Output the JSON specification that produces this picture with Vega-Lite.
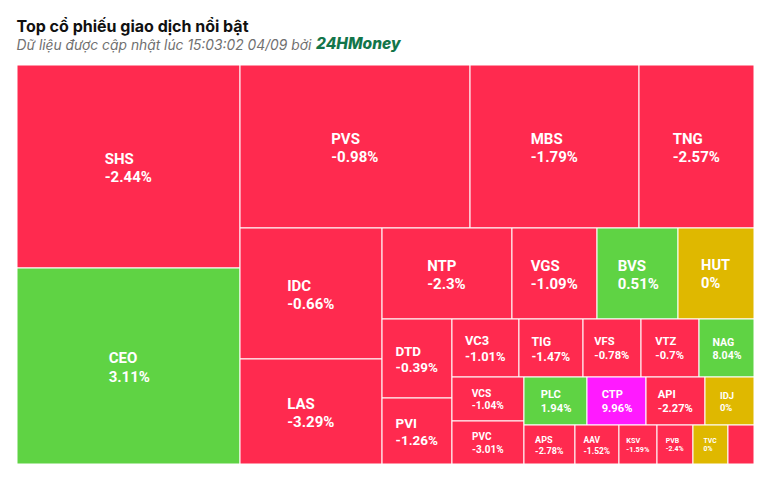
{
  "$schema": "https://vega.github.io/schema/vega-lite/v6.json",
  "width": 737,
  "height": 399,
  "autosize": {"type": "none"},
  "padding": {"left": 17, "top": 65, "right": 19, "bottom": 20},
  "background": "white",
  "title": {
    "text": "Top cổ phiếu giao dịch nổi bật",
    "subtitle": "Dữ liệu được cập nhật lúc 15:03:02 04/09 bởi",
    "anchor": "start",
    "font": "Inter",
    "fontSize": 16,
    "fontWeight": "bold",
    "color": "#111111",
    "subtitleFont": "Inter",
    "subtitleFontSize": 13.8,
    "subtitleFontStyle": "italic",
    "subtitleColor": "#707070",
    "subtitlePadding": 4,
    "offset": -15
  },
  "config": {"view": {"stroke": null}},
  "layer": [
    {
      "data": {
        "values": [
          {"ticker": "SHS", "change": -2.44, "status": "down", "x0": 0, "x1": 30.26, "y0": 0, "y1": 50.88},
          {"ticker": "CEO", "change": 3.11, "status": "up", "x0": 0, "x1": 30.26, "y0": 50.88, "y1": 100},
          {"ticker": "PVS", "change": -0.98, "status": "down", "x0": 30.26, "x1": 61.47, "y0": 0, "y1": 40.85},
          {"ticker": "MBS", "change": -1.79, "status": "down", "x0": 61.47, "x1": 84.4, "y0": 0, "y1": 40.85},
          {"ticker": "TNG", "change": -2.57, "status": "down", "x0": 84.4, "x1": 100, "y0": 0, "y1": 40.85},
          {"ticker": "IDC", "change": -0.66, "status": "down", "x0": 30.26, "x1": 49.53, "y0": 40.85, "y1": 73.68},
          {"ticker": "LAS", "change": -3.29, "status": "down", "x0": 30.26, "x1": 49.53, "y0": 73.68, "y1": 100},
          {"ticker": "NTP", "change": -2.3, "status": "down", "x0": 49.53, "x1": 67.16, "y0": 40.85, "y1": 63.66},
          {"ticker": "VGS", "change": -1.09, "status": "down", "x0": 67.16, "x1": 78.7, "y0": 40.85, "y1": 63.66},
          {"ticker": "BVS", "change": 0.51, "status": "up", "x0": 78.7, "x1": 89.69, "y0": 40.85, "y1": 63.66},
          {"ticker": "HUT", "change": 0, "status": "ref", "x0": 89.69, "x1": 100, "y0": 40.85, "y1": 63.66},
          {"ticker": "DTD", "change": -0.39, "status": "down", "x0": 49.53, "x1": 59.02, "y0": 63.66, "y1": 83.46},
          {"ticker": "PVI", "change": -1.26, "status": "down", "x0": 49.53, "x1": 59.02, "y0": 83.46, "y1": 100},
          {"ticker": "VC3", "change": -1.01, "status": "down", "x0": 59.02, "x1": 68.11, "y0": 63.66, "y1": 78.2},
          {"ticker": "TIG", "change": -1.47, "status": "down", "x0": 68.11, "x1": 76.8, "y0": 63.66, "y1": 78.2},
          {"ticker": "VFS", "change": -0.78, "status": "down", "x0": 76.8, "x1": 84.67, "y0": 63.66, "y1": 78.2},
          {"ticker": "VTZ", "change": -0.7, "status": "down", "x0": 84.67, "x1": 92.54, "y0": 63.66, "y1": 78.2},
          {"ticker": "NAG", "change": 8.04, "status": "up", "x0": 92.54, "x1": 100, "y0": 63.66, "y1": 78.2},
          {"ticker": "VCS", "change": -1.04, "status": "down", "x0": 59.02, "x1": 68.79, "y0": 78.2, "y1": 89.22},
          {"ticker": "PVC", "change": -3.01, "status": "down", "x0": 59.02, "x1": 68.79, "y0": 89.22, "y1": 100},
          {"ticker": "PLC", "change": 1.94, "status": "up", "x0": 68.79, "x1": 77.34, "y0": 78.2, "y1": 90.23},
          {"ticker": "CTP", "change": 9.96, "status": "ceiling", "x0": 77.34, "x1": 85.35, "y0": 78.2, "y1": 90.23},
          {"ticker": "API", "change": -2.27, "status": "down", "x0": 85.35, "x1": 93.35, "y0": 78.2, "y1": 90.23},
          {"ticker": "IDJ", "change": 0, "status": "ref", "x0": 93.35, "x1": 100, "y0": 78.2, "y1": 90.23},
          {"ticker": "APS", "change": -2.78, "status": "down", "x0": 68.79, "x1": 75.71, "y0": 90.23, "y1": 100},
          {"ticker": "AAV", "change": -1.52, "status": "down", "x0": 75.71, "x1": 81.68, "y0": 90.23, "y1": 100},
          {"ticker": "KSV", "change": -1.59, "status": "down", "x0": 81.68, "x1": 86.84, "y0": 90.23, "y1": 100},
          {"ticker": "PVB", "change": -2.4, "status": "down", "x0": 86.84, "x1": 91.72, "y0": 90.23, "y1": 100},
          {"ticker": "TVC", "change": 0, "status": "ref", "x0": 91.72, "x1": 96.47, "y0": 90.23, "y1": 100},
          {"ticker": "", "change": null, "status": "down", "x0": 96.47, "x1": 100, "y0": 90.23, "y1": 100}
        ]
      },
      "transform": [
        {"calculate": "(datum.x0 + datum.x1) / 2", "as": "xm"},
        {"calculate": "(datum.y0 + datum.y1) / 2", "as": "ym"},
        {"calculate": "(datum.x1 - datum.x0) * 7.37", "as": "w"},
        {"calculate": "(datum.y1 - datum.y0) * 3.99", "as": "h"},
        {"calculate": "min(15, datum.w / 5.2, datum.h / 4.3)", "as": "fs"},
        {"calculate": "datum.change === null ? '' : datum.change + '%'", "as": "pct"},
        {"calculate": "datum.ticker + '\\n' + datum.pct", "as": "label"},
        {"calculate": "max(length(datum.ticker) * 0.68, length(datum.pct) * 0.53) * datum.fs", "as": "tw"}
      ],
      "layer": [
        {
          "mark": {"type": "rect", "stroke": "white", "strokeWidth": 1},
          "encoding": {
            "x": {"field": "x0", "type": "quantitative", "scale": {"domain": [0, 100], "nice": false, "zero": false}, "axis": null},
            "x2": {"field": "x1"},
            "y": {"field": "y0", "type": "quantitative", "scale": {"domain": [0, 100], "nice": false, "zero": false, "reverse": true}, "axis": null},
            "y2": {"field": "y1"},
            "color": {
              "field": "status",
              "type": "nominal",
              "scale": {"domain": ["down", "up", "ref", "ceiling"], "range": ["#ff2a4f", "#5fd344", "#dfb800", "#ff1aff"]},
              "legend": null
            }
          }
        },
        {
          "transform": [{"filter": "datum.w >= 30"}],
          "mark": {
            "type": "text",
            "font": "Roboto",
            "fontWeight": "bold",
            "align": "left",
            "baseline": "middle",
            "color": "white",
            "lineBreak": "\n",
            "lineHeight": {"expr": "datum.fs * 1.22"},
            "dx": {"expr": "-datum.tw / 2"},
            "dy": {"expr": "-datum.fs * 0.51"}
          },
          "encoding": {
            "x": {"field": "xm", "type": "quantitative"},
            "y": {"field": "ym", "type": "quantitative"},
            "text": {"field": "label"},
            "size": {"field": "fs", "type": "quantitative", "scale": null}
          }
        }
      ]
    },
    {
      "data": {"values": [{"t": "24HMoney", "px": 40.57, "py": -3.9}]},
      "mark": {"type": "text", "font": "Inter", "fontSize": 15.5, "fontWeight": 800, "fontStyle": "italic", "color": "#13754a", "align": "left", "baseline": "alphabetic"},
      "encoding": {
        "x": {"field": "px", "type": "quantitative"},
        "y": {"field": "py", "type": "quantitative"},
        "text": {"field": "t"}
      }
    }
  ]
}
